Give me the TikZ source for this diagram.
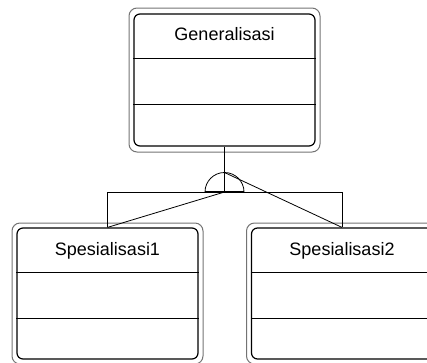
\documentclass[tikz,border=0pt]{standalone}
\usepackage{fontspec}
\setmainfont{Liberation Sans}
\usetikzlibrary{calc}
\begin{document}
\begin{tikzpicture}[x=1pt,y=-1pt,
  inner/.style={draw=black,line width=1.2pt,rounded corners=6pt,minimum width=181pt,inner sep=0pt},
  outer/.style={draw=black!55,line width=1pt,rounded corners=8pt,minimum width=191pt,inner sep=0pt},
  lbl/.style={font=\fontsize{18}{20}\selectfont,inner sep=0pt},
  conn/.style={draw=black,line width=0.8pt},
  divider/.style={draw=black,line width=1.1pt}]
\useasboundingbox (0,0) rectangle (427,362);
% Generalisasi
\node[outer,minimum height=144pt] (genO) at (224.5,80) {};
\node[inner,minimum height=132pt] (gen) at (224.5,80) {};
\node[lbl] (genT) at ($(gen.north)+(0,21)$) {Generalisasi};
\draw[divider] ($(gen.north west)+(0,45)$) -- ($(gen.north east)+(0,45)$);
\draw[divider] ($(gen.north west)+(0,91)$) -- ($(gen.north east)+(0,91)$);
% Spesialisasi1
\node[outer,minimum height=141pt] (s1O) at (107.5,293.5) {};
\node[inner,minimum height=131pt] (s1) at (107.5,293.5) {};
\node[lbl] (s1T) at ($(s1.north)+(0,23)$) {Spesialisasi1};
\draw[divider] ($(s1.north west)+(0,45)$) -- ($(s1.north east)+(0,45)$);
\draw[divider] ($(s1.north west)+(0,91)$) -- ($(s1.north east)+(0,91)$);
% Spesialisasi2
\node[outer,minimum height=141pt] (s2O) at (342,293.5) {};
\node[inner,minimum height=131pt] (s2) at (342,293.5) {};
\node[lbl] (s2T) at ($(s2.north)+(0,23)$) {Spesialisasi2};
\draw[divider] ($(s2.north west)+(0,45)$) -- ($(s2.north east)+(0,45)$);
\draw[divider] ($(s2.north west)+(0,91)$) -- ($(s2.north east)+(0,91)$);
% generalization connector
\coordinate (j) at (224.5,192);
\coordinate (apex) at (224.5,172.5);
\coordinate (hl) at (107.5,192);
\coordinate (hr) at (342,192);
\draw[conn] (gen.south) -- (j);
\draw[conn] ($(j)+(-19.5,0)$) arc (180:360:19.5);
\draw[black,line width=1.6pt] ($(j)+(-19.5,0)$) -- ($(j)+(19.5,0)$);
\draw[conn] (hl) -- (hr);
\draw[conn] (hl) -- (s1.north);
\draw[conn] (hr) -- (s2.north);
\draw[conn] (j) -- (s1.north);
\draw[conn] (apex) -- (s2.north);
\end{tikzpicture}
\end{document}
